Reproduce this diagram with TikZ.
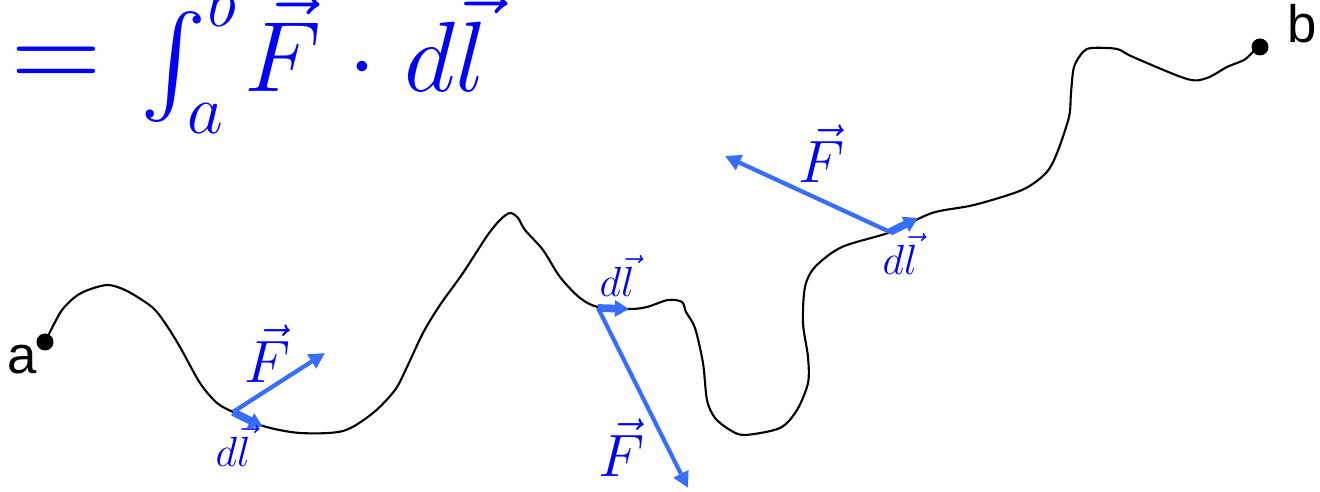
\RequirePackage{fix-cm}
\documentclass[tikz,border=0pt]{standalone}
\usepackage{exscale}
\usepackage{fontspec}
\newfontfamily\labelfont{Liberation Sans}
\usetikzlibrary{arrows.meta,positioning}
\definecolor{vecblue}{RGB}{56,110,255}
\begin{document}
\begin{tikzpicture}[x=0.01cm,y=-0.01cm,
  trail/.style={draw=black,line width=0.6pt},
  pt/.style={circle,fill=black,inner sep=0pt,minimum size=1.7mm},
  fv/.style={draw=vecblue,line width=1.2pt,-{Triangle[length=4.5pt,width=4.5pt]}},
  dv/.style={draw=vecblue,line width=2.2pt,-{Triangle[length=4pt,width=4.5pt]}},
  flab/.style={text=blue,inner sep=0pt,font=\fontsize{17}{20}\selectfont},
  dlab/.style={text=blue,inner sep=0pt,font=\fontsize{12}{14}\selectfont},
  ends/.style={inner sep=0pt,font=\labelfont\fontsize{15}{18}\selectfont}]
  \useasboundingbox (0,0) rectangle (1320,492);
  \clip (0,0) rectangle (1320,492);
  \node[anchor=base west,inner sep=0pt,text=blue,font=\huge,scale=1.37,transform shape] (eq) at (11,92)
    {$\mathrel{\scalebox{1.25}{$=$}}\mkern2mu\int_{\raisebox{-0.08em}{$\scriptstyle a$}}^{\raisebox{0.12em}{$\scriptstyle b$}}\mkern-2mu\vec F\mkern1mu\cdot\mkern1mu d\vec l$};
  \draw[trail] plot[smooth,tension=0.5] coordinates {(45,342) (52,328) (62,310) (75,297) (88,290)
    (108,285) (127,291) (152,307) (165,323) (180,347) (200,383) (217,403) (235,413) (263,426)
    (300,433) (343,431) (373,413) (395,390) (407,367) (423,333) (440,305) (463,273) (487,236)
    (500,220) (510,213) (518,218) (525,230) (543,250) (560,277) (580,298) (598,307) (630,309)
    (647,307) (668,300) (682,302) (686,312) (695,328) (703,363) (707,400) (715,418) (730,430)
    (745,435) (780,428) (797,410) (808,383) (808,357) (803,323) (805,287) (815,267) (842,247)
    (891,232) (932,213) (974,205) (1022,190) (1046,173) (1057,153) (1069,117) (1071,93)
    (1074,67) (1083,52) (1092,48) (1117,49) (1133,57) (1187,79) (1207,78) (1227,67) (1244,60)
    (1253,52) (1260,47)};
  \node[pt] (a) at (45,342) {};
  \node[pt] (b) at (1260,47) {};
  \node[ends] (la) at (22,360) {a};
  \node[ends] (lb) at (1302,24) {b};
  \coordinate (o1) at (233,412); \coordinate (f1) at (325,353); \coordinate (d1) at (263,427);
  \coordinate (o2) at (598,308); \coordinate (f2) at (688,488); \coordinate (d2) at (629,309);
  \coordinate (o3) at (890,232); \coordinate (f3) at (725,156); \coordinate (d3) at (918,218);
  \draw[fv] (o1) -- (f1); \draw[dv] (o1) -- (d1);
  \draw[fv] (o2) -- (f2); \draw[dv] (o2) -- (d2);
  \draw[fv] (o3) -- (f3); \draw[dv] (o3) -- (d3);
  \node[flab,anchor=base] (F1) at (268,383) {$\vec F$};
  \node[flab,anchor=base] (F2) at (622,477) {$\vec F$};
  \node[flab,anchor=base] (F3) at (822,183) {$\vec F$};
  \node[dlab,anchor=base] (l1) at (233,467) {$d\vec l$};
  \node[dlab,anchor=base] (l2) at (617,297) {$d\vec l$};
  \node[dlab,anchor=base] (l3) at (900,275) {$d\vec l$};
\end{tikzpicture}
\end{document}
